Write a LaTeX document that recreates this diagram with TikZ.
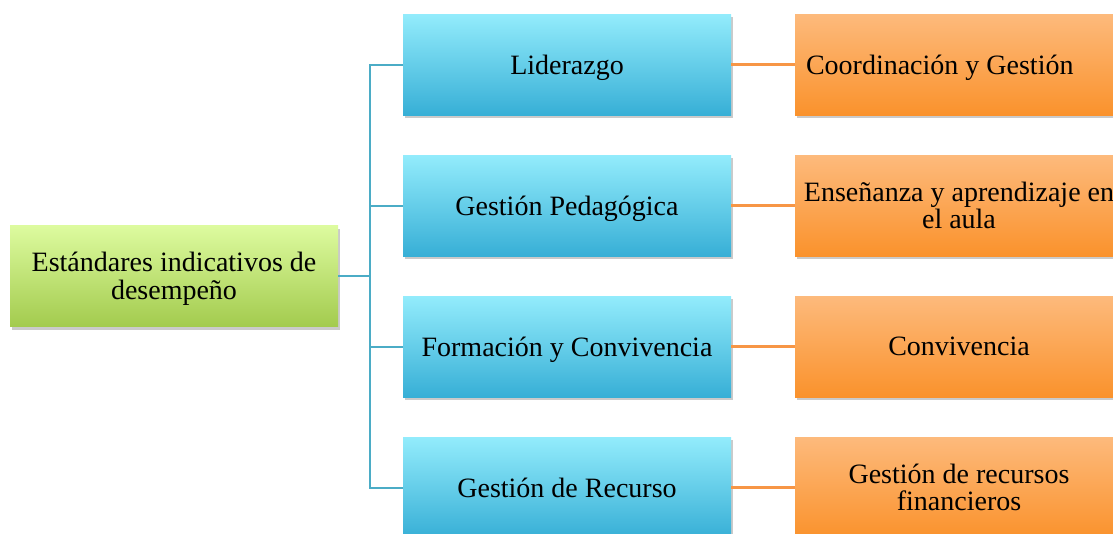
\documentclass[tikz,border=0pt]{standalone}
\usepackage{fontspec}
\setmainfont{Liberation Serif}
\usepackage{tikz}
\usetikzlibrary{shadows}
\usepackage{pgf,pgffor}

\definecolor{verdeA}{HTML}{DDFB9F}
\definecolor{verdeB}{HTML}{A3CB4E}
\definecolor{azulA}{HTML}{93ECFC}
\definecolor{azulB}{HTML}{37AFD6}
\definecolor{naranjaA}{HTML}{FDBA7C}
\definecolor{naranjaB}{HTML}{FA922C}
\definecolor{lineaazul}{HTML}{4BACC6}
\definecolor{lineanaranja}{HTML}{F79646}

\tikzset{
	caja/.style={rectangle, minimum width=328pt, minimum height=101pt, inner sep=0pt, align=center,
		text depth=0pt, font=\fontsize{28}{27.5}\selectfont,
		drop shadow={shadow xshift=2pt, shadow yshift=-3pt, opacity=0.35, fill=black!60}},
	estandar/.style={caja, top color=verdeA, bottom color=verdeB},
	area/.style={caja, top color=azulA, bottom color=azulB},
	dimension/.style={caja, top color=naranjaA, bottom color=naranjaB},
	rama/.style={draw=lineaazul, line width=2pt},
	enlace/.style={draw=lineanaranja, line width=3pt}
}

\begin{document}
\begin{tikzpicture}[x=1pt, y=1pt]
			\useasboundingbox (0,0) rectangle (1113,-533);

			\pgfmathsetmacro\XA{174}
			\pgfmathsetmacro\XB{567}
			\pgfmathsetmacro\XC{959}

			\pgfmathsetmacro\YA{-64.5}
			\pgfmathsetmacro\YB{-205.5}
			\pgfmathsetmacro\YC{-346.5}
			\pgfmathsetmacro\YD{-487.5}

			\node [estandar] (estandares) at (\XA,-276) {Estándares indicativos de\\desempeño};

			\node [area] (liderazgo) at (\XB,\YA) {Liderazgo};
			\node [area] (pedagogica) at (\XB,\YB) {Gestión Pedagógica};
			\node [area] (formacion) at (\XB,\YC) {Formación y Convivencia};
			\node [area] (recurso) at (\XB,\YD) {Gestión de Recurso};

			\node [dimension, text width=306pt, align=flush left] (coordinacion) at (\XC,\YA) {Coordinación y Gestión};
			\node [dimension] (ensenanza) at (\XC,\YB) {Enseñanza y aprendizaje en\\el aula};
			\node [dimension] (convivencia) at (\XC,\YC) {Convivencia};
			\node [dimension] (financieros) at (\XC,\YD) {Gestión de recursos\\financieros};

			\coordinate (eje) at (370,-276);

			\draw [rama] (estandares.east) -- (eje);
			\draw [rama] (eje) |- (liderazgo.west);
			\draw [rama] (eje) |- (pedagogica.west);
			\draw [rama] (eje) |- (formacion.west);
			\draw [rama] (eje) |- (recurso.west);

			\draw [enlace] (liderazgo.east) -- (coordinacion.west);
			\draw [enlace] (pedagogica.east) -- (ensenanza.west);
			\draw [enlace] (formacion.east) -- (convivencia.west);
			\draw [enlace] (recurso.east) -- (financieros.west);

		\end{tikzpicture}
\end{document}
